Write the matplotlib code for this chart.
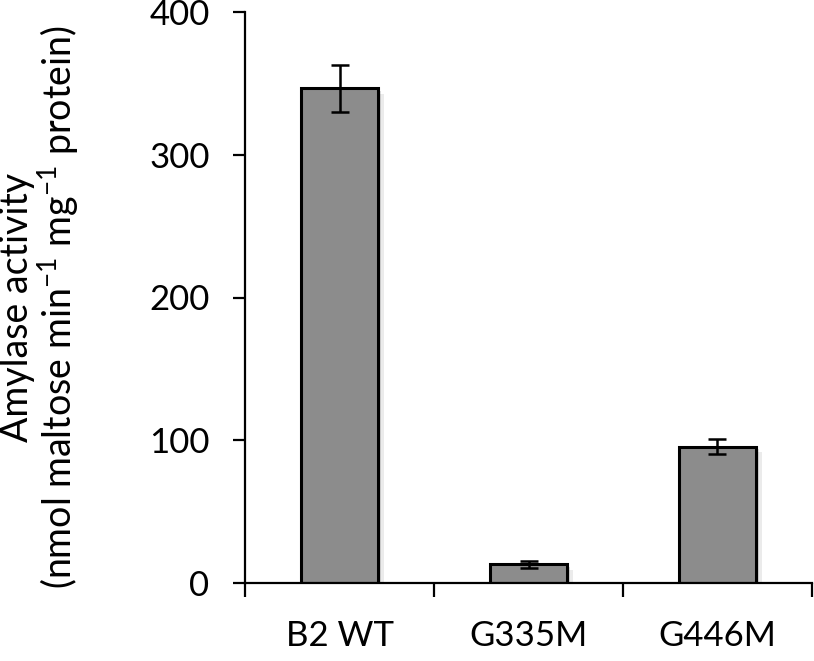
import matplotlib
matplotlib.use("Agg")
import matplotlib.pyplot as plt
import matplotlib.patheffects as pe
import numpy as np

categories = ["B2 WT", "G335M", "G446M"]
values = [346.5, 13.0, 95.5]
errors = [16.5, 2.5, 5.3]
yticks = [0, 100, 200, 300, 400]

plt.rcParams['font.family'] = ['Lato', 'DejaVu Sans']
plt.rcParams['mathtext.fontset'] = 'custom'
plt.rcParams['mathtext.rm'] = 'Lato'
plt.rcParams['mathtext.it'] = 'Lato:italic'
plt.rcParams['mathtext.bf'] = 'Lato:bold'

fig = plt.figure(figsize=(8.14, 6.61), dpi=100)
ax = fig.add_axes([245/814, 1-583/661, 567/814, 571/661])

x = np.arange(len(categories))
bars = ax.bar(x, values, width=0.41, color="#8c8c8c", edgecolor="black",
              linewidth=2.2, zorder=2)
for b in bars:
    b.set_path_effects([
        pe.SimplePatchShadow(offset=(4, -4), shadow_rgbFace="black", alpha=0.08),
        pe.SimplePatchShadow(offset=(2, -2), shadow_rgbFace="black", alpha=0.12),
        pe.Normal()])
ax.errorbar(x, values, yerr=errors, fmt="none", ecolor="black",
            elinewidth=1.8, capsize=6.5, capthick=1.8, zorder=3)

ax.set_xlim(-0.5, len(categories) - 0.5)
ax.set_ylim(0, 400)
ax.set_yticks(yticks)
ax.set_xticks(x)
ax.set_xticklabels(categories, fontsize=25)
ax.set_xticks(np.arange(-0.5, len(categories), 1.0), minor=True)
ax.tick_params(axis="x", which="major", length=0, pad=27)
ax.tick_params(axis="x", which="minor", length=10, width=1.6, direction="out")
ax.tick_params(axis="y", which="major", length=8.5, width=1.6, direction="out",
               labelsize=25, pad=17)

for s in ["top", "right"]:
    ax.spines[s].set_visible(False)
for s in ["left", "bottom"]:
    ax.spines[s].set_linewidth(1.6)

ax.set_ylabel("Amylase activity\n(nmol maltose min$^{\\mathregular{-1}}$ mg$^{\\mathregular{-1}}$ protein)",
              fontsize=27, linespacing=1.0)
ax.yaxis.set_label_coords(-0.29, 0.482)

fig.savefig("out.png", dpi=100)
